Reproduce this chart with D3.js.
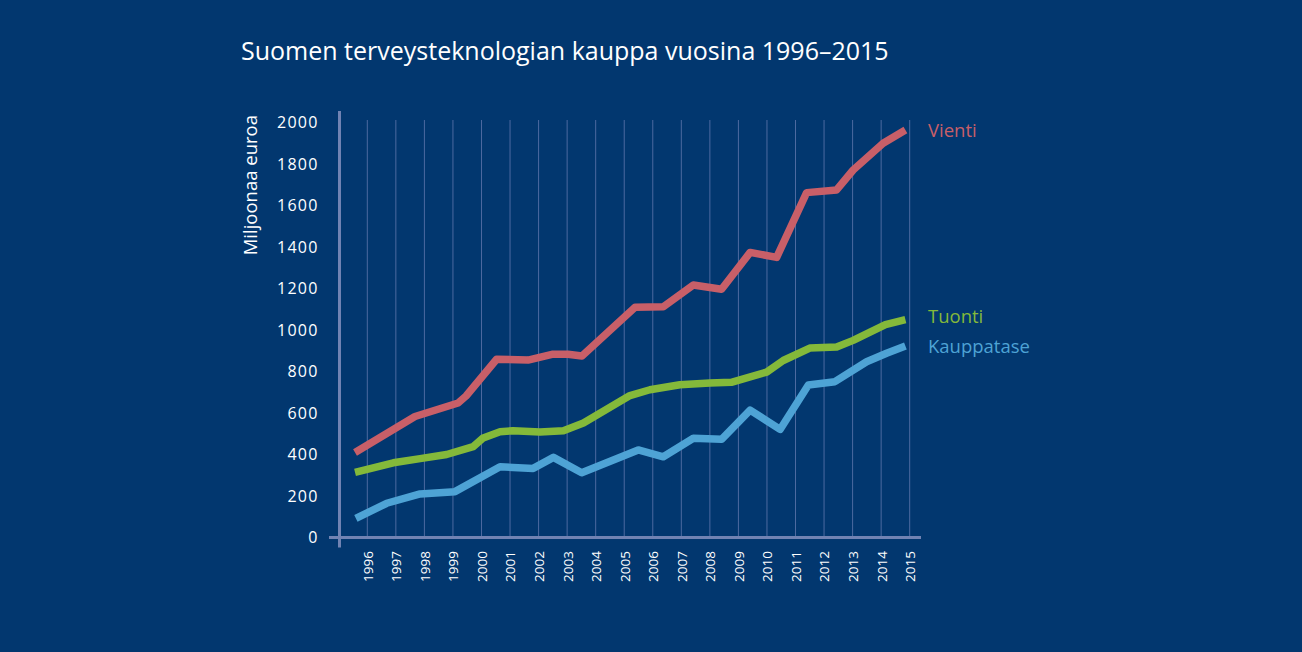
<!DOCTYPE html>
<html><head><meta charset="utf-8">
<script src="https://cdn.jsdelivr.net/npm/d3@7"></script>
<style>
html,body{margin:0;padding:0;background:#02376f;}
svg{display:block;}
text{font-family:"Open Sans","DejaVu Sans",sans-serif;}
</style></head>
<body>
<script>
const title = "Suomen terveysteknologian kauppa vuosina 1996–2015";
const yLabel = "Miljoonaa euroa";
const years = [1996,1997,1998,1999,2000,2001,2002,2003,2004,2005,2006,2007,2008,2009,2010,2011,2012,2013,2014,2015];
const yTicks = [0,200,400,600,800,1000,1200,1400,1600,1800,2000];
const seriesNames = ["Vienti","Tuonti","Kauppatase"];

const vientiT = [1995.57,1997.67,1999.18,1999.46,2000.53,2001.63,2002.47,2003.03,2003.52,2005.38,2006.37,2007.42,2008.41,2009.41,2010.34,2011.39,2012.44,2013.02,2014.07,2014.85];
const vientiV = [410,583,648,682,859,855,883,883,875,1110,1112,1217,1196,1374,1350,1662,1675,1771,1900,1964];

const tuontiT = [1995.57,1996.91,1997.85,1998.78,1999.71,2000.06,2000.65,2001.11,2002.05,2002.87,2003.57,2005.2,2005.9,2006.95,2008.0,2008.75,2009.99,2010.57,2011.5,2012.44,2013.02,2014.15,2014.85];
const tuontiV = [314,360,380,400,438,480,510,515,508,515,552,684,712,736,745,748,797,853,913,918,950,1026,1050];

const kauppataseT = [1995.6,1996.68,1997.85,1999.07,2000.65,2001.81,2002.52,2003.51,2005.49,2006.37,2007.42,2008.41,2009.41,2010.46,2011.45,2012.38,2013.49,2014.19,2014.85];
const kauppataseV = [92,165,210,221,341,333,386,312,422,389,478,473,614,521,735,751,847,888,923];

const colors = {Vienti:"#c85f68", Tuonti:"#84b93a", Kauppatase:"#4ea3d5"};

const W = 1302, H = 652;
const svg = d3.select("body").append("svg").attr("width",W).attr("height",H);
svg.append("rect").attr("width",W).attr("height",H).attr("fill","#02376f");

const x = d3.scaleLinear().domain([1996,2015]).range([367.3,909.7]);
const y = d3.scaleLinear().domain([0,2000]).range([537.5,122.5]);

// gridlines
svg.append("g").selectAll("line").data(years).join("line")
  .attr("x1",d=>x(d)).attr("x2",d=>x(d))
  .attr("y1",120).attr("y2",y(0))
  .attr("stroke","#4d6aa0").attr("stroke-width",1);

// axes lines
const axisColor = "#7183b3";
svg.append("line").attr("x1",329).attr("x2",921).attr("y1",y(0)).attr("y2",y(0))
  .attr("stroke",axisColor).attr("stroke-width",3);
svg.append("line").attr("x1",339.5).attr("x2",339.5).attr("y1",111).attr("y2",547.5)
  .attr("stroke",axisColor).attr("stroke-width",3);

// y tick labels
svg.append("g").selectAll("text").data(yTicks).join("text")
  .attr("x",318.5).attr("y",d=>y(d)).attr("dy","0.36em")
  .attr("text-anchor","end").attr("fill","#fff").attr("font-size",16)
  .attr("letter-spacing",1.2)
  .text(d=>d);

// x tick labels
svg.append("g").selectAll("text").data(years).join("text")
  .attr("transform",d=>`translate(${x(d)+0.5},551) rotate(-90)`)
  .attr("dy","0.36em").attr("text-anchor","end")
  .attr("fill","#fff").attr("font-size",13.5).attr("font-family","Liberation Sans, Arial, sans-serif")
  .text(d=>d);

// y label
svg.append("text").attr("transform","translate(250,115) rotate(-90)")
  .attr("dy","0.36em").attr("text-anchor","end").attr("fill","#fff").attr("font-size",18.5)
  .text(yLabel);

// title
svg.append("text").attr("x",241).attr("y",60).attr("fill","#fff").attr("font-size",25)
  .text(title);

const line = d3.line().x(d=>x(d[0])).y(d=>y(d[1]));
const seriesData = [
  {name:"Vienti", pts:d3.zip(vientiT,vientiV)},
  {name:"Tuonti", pts:d3.zip(tuontiT,tuontiV)},
  {name:"Kauppatase", pts:d3.zip(kauppataseT,kauppataseV)}
];
svg.append("g").selectAll("path").data(seriesData).join("path")
  .attr("d",d=>line(d.pts)).attr("fill","none")
  .attr("stroke",d=>colors[d.name]).attr("stroke-width",7.5)
  .attr("stroke-linejoin","round");

// series labels
svg.append("g").selectAll("text").data(seriesData).join("text")
  .attr("x",928).attr("y",d=>d.name==="Vienti"?y(1964):d.name==="Tuonti"?y(1067):y(920))
  .attr("dy","0.36em").attr("fill",d=>colors[d.name]).attr("font-size",18.5)
  .text(d=>d.name);
</script>
</body></html>
